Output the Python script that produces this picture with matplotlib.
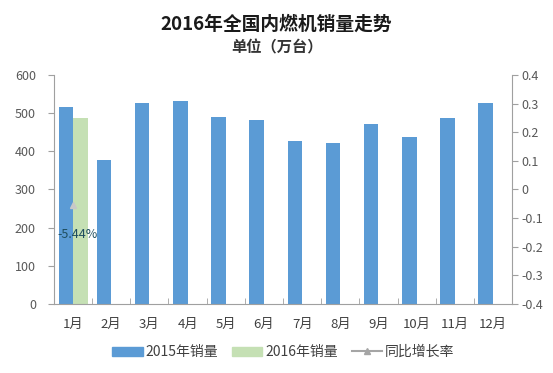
import numpy as np
import matplotlib
matplotlib.use("Agg")
import matplotlib.pyplot as plt
from matplotlib.lines import Line2D
from matplotlib.patches import Patch

plt.rcParams['font.family'] = ['Noto Sans CJK SC', 'DejaVu Sans']

# data
months = ['1月', '2月', '3月', '4月', '5月', '6月', '7月', '8月', '9月', '10月', '11月', '12月']
sales_2015 = [517, 377, 527, 532, 491, 482, 428, 421, 472, 437, 488, 527]
sales_2016 = [486]
growth = [-0.0544]
growth_label = '-5.44%'

blue = '#5B9BD5'
green = '#C5E0B4'
grey = '#A5A5A5'
txt = '#595959'

fig = plt.figure(figsize=(5.53, 3.73), dpi=100)
ax = fig.add_axes([0.0976, 0.185, 0.8284, 0.614])

x = np.arange(len(months))
w = 0.38
ax.bar(x - w / 2, sales_2015, width=w, color=blue, zorder=2)
ax.bar(x[:len(sales_2016)] + w / 2, sales_2016, width=w, color=green, zorder=2)

ax.set_xlim(-0.5, len(months) - 0.5)
ax.set_ylim(0, 600)
ax.set_yticks(range(0, 601, 100))
ax.set_xticks(x)
ax.set_xticklabels(months, fontsize=9.5, color='#404040')
ax.tick_params(axis='x', length=0, pad=10)
ax.set_xticks(np.arange(-0.5, len(months)), minor=True)
ax.tick_params(axis='x', which='minor', length=4, direction='in', color='#A0A0A0')
ax.tick_params(axis='y', length=4, direction='out', color='#A0A0A0', labelsize=9,
               labelcolor=txt, pad=9)
for s in ['top', 'right']:
    ax.spines[s].set_visible(False)
for s in ['left', 'bottom']:
    ax.spines[s].set_color('#A0A0A0')

ax2 = ax.twinx()
ax2.set_ylim(-0.4, 0.4)
ax2.set_yticks(np.round(np.arange(-0.4, 0.41, 0.1), 1))
ax2.set_yticklabels(['-0.4', '-0.3', '-0.2', '-0.1', '0', '0.1', '0.2', '0.3', '0.4'])
ax2.tick_params(axis='y', length=4, direction='out', color='#A0A0A0', labelsize=9,
                labelcolor=txt, pad=3)
for s in ['top', 'left', 'bottom']:
    ax2.spines[s].set_visible(False)
ax2.spines['right'].set_color('#A0A0A0')
ax2.plot(x[:len(growth)], growth, color=grey, marker='^', markersize=4,
         markerfacecolor='#C8C8C8', markeredgecolor='#C8C8C8', zorder=3)
ax2.annotate(growth_label, (x[0], growth[0]), xytext=(3, -21), textcoords='offset points',
             ha='center', va='center', fontsize=9, color='#1F4E5F')

fig.text(0.5, 0.936, '2016年全国内燃机销量走势', ha='center', va='center',
         fontsize=13.5, fontweight='bold', color='#1A1A1A')
fig.text(0.5, 0.874, '单位（万台）', ha='center', va='center',
         fontsize=11, fontweight='bold', color='#333333')

handles = [Patch(color=blue), Patch(color=green),
           Line2D([0], [0], color=grey, marker='^', markersize=4)]
labels = ['2015年销量', '2016年销量', '同比增长率']
fig.legend(handles, labels, loc='center left', bbox_to_anchor=(0.19, 0.056), ncol=3,
           frameon=False, fontsize=10, handlelength=2.2, handleheight=0.6,
           handletextpad=0.2, columnspacing=1.0, borderpad=0, labelcolor='#404040')

fig.savefig('out.png', dpi=100)
